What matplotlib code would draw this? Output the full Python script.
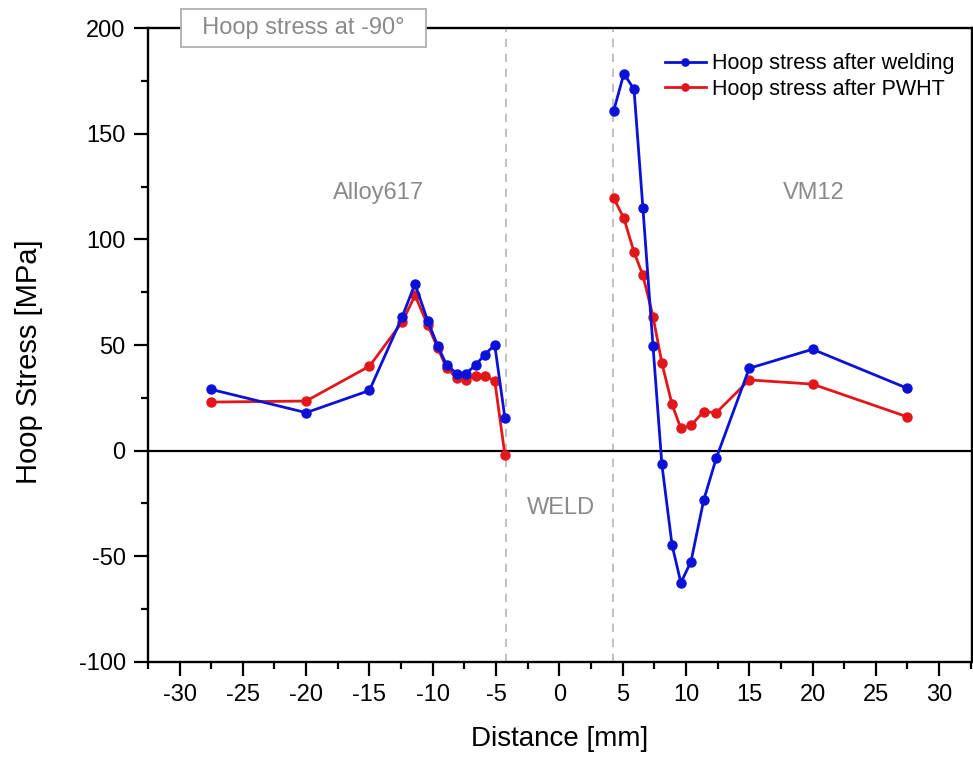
import numpy as np
import matplotlib
matplotlib.use("Agg")
import matplotlib.pyplot as plt
from matplotlib.ticker import MultipleLocator

plt.rcParams['font.family'] = ['Liberation Sans', 'DejaVu Sans']
plt.rcParams['axes.unicode_minus'] = False

# positions across the joint [mm]
dist_left = [-27.5, -20, -15, -12.4, -11.4, -10.4, -9.6, -8.9, -8.1, -7.4, -6.6, -5.9, -5.1, -4.3]
dist_right = [4.3, 5.1, 5.9, 6.6, 7.4, 8.1, 8.9, 9.6, 10.4, 11.4, 12.4, 15, 20, 27.5]

# hoop stress after welding [MPa]
weld_left = [29, 18, 28.5, 63.5, 79, 61.5, 49.5, 40.5, 36.5, 36.5, 40.5, 45.5, 50, 15.5]
weld_right = [161, 178.5, 171, 115, 49.5, -6.5, -44.5, -62.5, -52.5, -23.5, -3.5, 39, 48, 29.5]

# hoop stress after PWHT [MPa]
pwht_left = [23, 23.5, 40, 61, 73.5, 59.5, 48.5, 39, 34.5, 33.5, 35.5, 35.5, 33, -2]
pwht_right = [119.5, 110, 94, 83, 63.5, 41.5, 22, 10.5, 12, 18.5, 18, 33.5, 31.5, 16]

blue = '#0b12d8'
red = '#e3161a'

fig, ax = plt.subplots(figsize=(9.73, 7.6), dpi=100)
fig.subplots_adjust(left=0.152, right=0.999, top=0.963, bottom=0.129)

ax.plot(dist_left, weld_left, '-o', color=blue, lw=2, ms=6.5,
        label='Hoop stress after welding', zorder=4)
ax.plot(dist_right, weld_right, '-o', color=blue, lw=2, ms=6.5, zorder=4)
ax.plot(dist_left, pwht_left, '-o', color=red, lw=2, ms=6.5,
        label='Hoop stress after PWHT', zorder=3)
ax.plot(dist_right, pwht_right, '-o', color=red, lw=2, ms=6.5, zorder=3)

ax.axhline(0, color='black', lw=1.6, zorder=2)
ax.axvline(-4.2, color='#b5b5b5', lw=1.2, ls=(0, (5, 4)), zorder=1)
ax.axvline(4.25, color='#b5b5b5', lw=1.2, ls=(0, (5, 4)), zorder=1)

ax.set_xlim(-32.5, 32.6)
ax.set_ylim(-100, 200)
ax.xaxis.set_major_locator(MultipleLocator(5))
ax.xaxis.set_minor_locator(MultipleLocator(2.5))
ax.yaxis.set_major_locator(MultipleLocator(50))
ax.yaxis.set_minor_locator(MultipleLocator(25))
ax.tick_params(which='major', direction='out', length=10, width=1.6, labelsize=17, pad=6)
ax.tick_params(which='minor', direction='out', length=5, width=1.6)
for s in ax.spines.values():
    s.set_linewidth(1.7)

ax.set_xlabel('Distance [mm]', fontsize=20, labelpad=14)
ax.set_ylabel('Hoop Stress [MPa]', fontsize=21)
ax.yaxis.set_label_coords(-0.127, 0.473)

gray = '#8a8a8a'
ax.text(-14.3, 122, 'Alloy617', color=gray, fontsize=17, ha='center', va='center')
ax.text(20.1, 122, 'VM12', color=gray, fontsize=17, ha='center', va='center')
ax.text(0.15, -27, 'WELD', color=gray, fontsize=17, ha='center', va='center')

ax.text(-20.2, 200, '  Hoop stress at -90\u00b0  ', color=gray, fontsize=17,
        ha='center', va='center', zorder=6, clip_on=False,
        bbox=dict(boxstyle='square,pad=0.35', fc='white', ec='#b0b0b0', lw=1.3))

leg = ax.legend(loc='upper right', bbox_to_anchor=(0.997, 0.984), frameon=False,
                fontsize=15.5, handlelength=1.9, handletextpad=0.3, borderaxespad=0.3,
                labelspacing=0.2, markerscale=0.8)

fig.savefig('out.png', dpi=100)
